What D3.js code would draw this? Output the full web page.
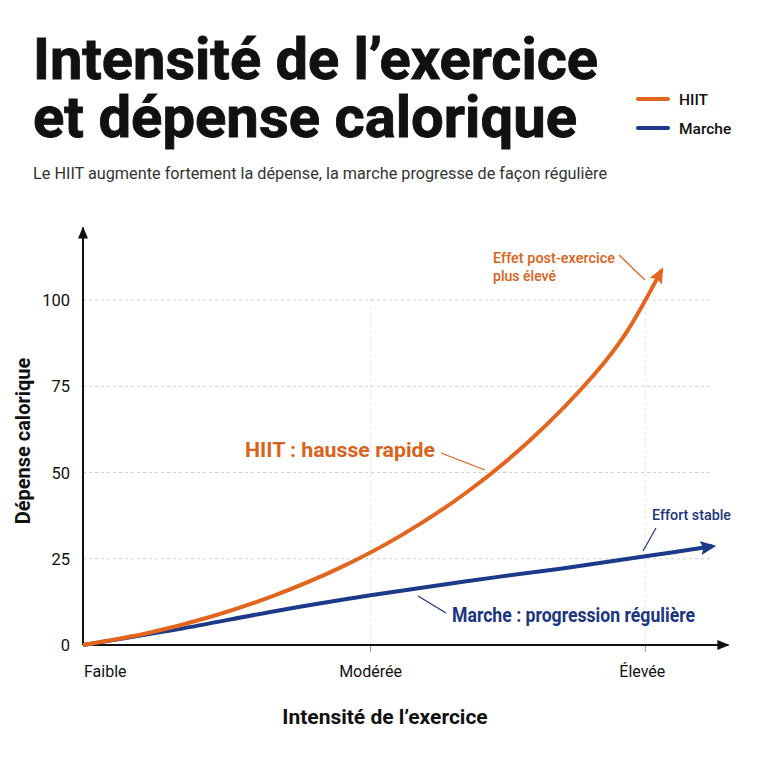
<!DOCTYPE html>
<html>
<head>
<meta charset="utf-8">
<script src="https://cdn.jsdelivr.net/npm/d3@7/dist/d3.min.js"></script>
<style>
  html, body { margin: 0; padding: 0; background: #ffffff; }
  svg { display: block; font-family: Roboto, "Noto Sans", sans-serif; }
</style>
</head>
<body>
<svg id="chart" width="768" height="768"></svg>
<script>
// ---- Data ----
const titleLines = ["Intensité de l’exercice", "et dépense calorique"];
const subtitle = "Le HIIT augmente fortement la dépense, la marche progresse de façon régulière";
const seriesNames = ["HIIT", "Marche"];

// intensity (0-100 scale) and calorie expenditure
const hiitIntensity = [0, 10, 20, 30, 40, 50, 60, 70, 80, 85, 90.5];
const hiitValues    = [0, 3.4, 8.2, 14.4, 22.2, 32, 44.2, 59.4, 78.4, 90.5, 108.5];
const marcheIntensity = [0, 15, 30, 45, 60, 75, 88, 98.5];
const marcheValues    = [0, 4.6, 9.8, 14.4, 18.5, 22.2, 25.7, 28.6];

const xTickValues = [0, 45, 88];
const xTickLabels = ["Faible", "Modérée", "Élevée"];
const yTickValues = [0, 25, 50, 75, 100];

const xTitle = "Intensité de l’exercice";
const yTitle = "Dépense calorique";

const annotations = [
  { lines: ["Effet post-exercice", "plus élevé"], series: 0 },
  { lines: ["HIIT : hausse rapide"], series: 0 },
  { lines: ["Effort stable"], series: 1 },
  { lines: ["Marche : progression régulière"], series: 1 }
];

// ---- Styles ----
const colors = ["#E4651E", "#1C3A8A"];
const textColors = ["#D9621C", "#1C3580"];

const svg = d3.select("#chart");

const x = d3.scaleLinear().domain([0, 100]).range([83, 722]);
const y = d3.scaleLinear().domain([0, 100]).range([645, 300]);

function fit(sel, w) {
  const n = sel.node();
  const len = n.getComputedTextLength();
  if (Math.abs(len - w) > 1) sel.attr("textLength", w).attr("lengthAdjust", "spacingAndGlyphs");
  return sel;
}

// ---- Title (one text, two lines) ----
const title = svg.append("text").attr("font-size", 58).attr("font-weight", 700)
  .attr("fill", "#111").attr("stroke", "#111").attr("stroke-width", 0.9);
const titleWidths = [565, 544];
titleLines.forEach((t, i) => {
  const ts = title.append("tspan").attr("x", 33).attr("y", 79 + i * 58).text(t);
  const len = ts.node().getComputedTextLength();
  ts.attr("textLength", titleWidths[i]).attr("lengthAdjust", "spacingAndGlyphs");
});

fit(svg.append("text").attr("x", 33).attr("y", 179)
  .attr("font-size", 16.5).attr("fill", "#333")
  .text(subtitle), 574);

// ---- Legend ----
seriesNames.forEach((name, i) => {
  const ly = 99 + i * 29;
  svg.append("line").attr("x1", 638).attr("x2", 668).attr("y1", ly).attr("y2", ly)
    .attr("stroke", colors[i]).attr("stroke-width", 4).attr("stroke-linecap", "round");
  svg.append("text").attr("x", 679).attr("y", ly + 6)
    .attr("font-size", 15.5).attr("font-weight", 500).attr("fill", "#111").text(name);
});

// ---- Gridlines ----
const grid = svg.append("g");
grid.selectAll("line.h").data(yTickValues.filter(d => d > 0)).join("line")
  .attr("x1", x(0)).attr("x2", 713)
  .attr("y1", d => y(d)).attr("y2", d => y(d))
  .attr("stroke", "#cfcfcf").attr("stroke-width", 1).attr("stroke-dasharray", "3,3");
grid.selectAll("line.v").data(xTickValues.filter(d => d > 0)).join("line")
  .attr("x1", d => x(d)).attr("x2", d => x(d))
  .attr("y1", y(0)).attr("y2", y(100))
  .attr("stroke", "#e6e6e6").attr("stroke-width", 1).attr("stroke-dasharray", "3,3");

// ---- Axes ----
const defs = svg.append("defs");
defs.append("marker").attr("id", "axArrow").attr("viewBox", "0 0 12 10")
  .attr("refX", 11).attr("refY", 5).attr("markerWidth", 12).attr("markerHeight", 10)
  .attr("markerUnits", "userSpaceOnUse").attr("orient", "auto")
  .append("path").attr("d", "M0,0 L12,5 L0,10 Z").attr("fill", "#111");
colors.forEach((c, i) => {
  defs.append("marker").attr("id", "arr" + i).attr("viewBox", "0 0 16 14")
    .attr("refX", 12).attr("refY", 7).attr("markerWidth", 16).attr("markerHeight", 14)
    .attr("markerUnits", "userSpaceOnUse").attr("orient", "auto")
    .append("path").attr("d", "M0,0 L16,7 L0,14 L3,7 Z").attr("fill", c);
});

svg.append("line").attr("x1", x(0)).attr("x2", x(101)).attr("y1", y(0)).attr("y2", y(0))
  .attr("stroke", "#111").attr("stroke-width", 2).attr("marker-end", "url(#axArrow)");
svg.append("line").attr("x1", x(0)).attr("x2", x(0)).attr("y1", y(0)).attr("y2", y(121))
  .attr("stroke", "#111").attr("stroke-width", 2).attr("marker-end", "url(#axArrow)");

// x ticks
svg.selectAll("line.xt").data(xTickValues.filter(d => d > 0)).join("line")
  .attr("x1", d => x(d)).attr("x2", d => x(d)).attr("y1", y(0) + 1).attr("y2", y(0) + 7)
  .attr("stroke", "#999").attr("stroke-width", 1);
svg.selectAll("text.xl").data(xTickValues).join("text")
  .attr("x", (d, i) => i === 0 ? x(d) + 1 : x(d) - (i === 2 ? 3 : 0))
  .attr("y", 677)
  .attr("text-anchor", (d, i) => i === 0 ? "start" : "middle")
  .attr("font-size", 16).attr("fill", "#111")
  .text((d, i) => xTickLabels[i]);

// y ticks
svg.selectAll("text.yl").data(yTickValues).join("text")
  .attr("x", 70).attr("y", d => y(d) + 6)
  .attr("text-anchor", "end").attr("font-size", 16.5).attr("fill", "#111")
  .text(d => d);

// axis titles
svg.append("text").attr("x", 385).attr("y", 724).attr("text-anchor", "middle")
  .attr("font-size", 21).attr("font-weight", 700).attr("fill", "#111").text(xTitle);
svg.append("text").attr("transform", "translate(30,441) rotate(-90)").attr("text-anchor", "middle")
  .attr("font-size", 20).attr("font-weight", 700).attr("fill", "#111").text(yTitle);

// ---- Lines ----
const line = d3.line().x(d => x(d[0])).y(d => y(d[1])).curve(d3.curveCatmullRom.alpha(0.5));
const hiitData = hiitIntensity.map((v, i) => [v, hiitValues[i]]);
const marcheData = marcheIntensity.map((v, i) => [v, marcheValues[i]]);

svg.append("path").datum(marcheData).attr("d", line)
  .attr("fill", "none").attr("stroke", colors[1]).attr("stroke-width", 4)
  .attr("marker-end", "url(#arr1)");
svg.append("path").datum(hiitData).attr("d", line)
  .attr("fill", "none").attr("stroke", colors[0]).attr("stroke-width", 4)
  .attr("marker-end", "url(#arr0)");

// ---- Annotations ----
function leader(x1, y1, x2, y2, c) {
  svg.append("line").attr("x1", x1).attr("y1", y1).attr("x2", x2).attr("y2", y2)
    .attr("stroke", c).attr("stroke-width", 1.2);
}
// Effet post-exercice
fit(svg.append("text").attr("x", 493).attr("y", 263).attr("font-size", 15).attr("font-weight", 500)
  .attr("fill", textColors[0]).text(annotations[0].lines[0]), 122);
fit(svg.append("text").attr("x", 493).attr("y", 281).attr("font-size", 15).attr("font-weight", 500)
  .attr("fill", textColors[0]).text(annotations[0].lines[1]), 63);
leader(619, 255, 645, 280, textColors[0]);

// HIIT : hausse rapide
fit(svg.append("text").attr("x", 245).attr("y", 457).attr("font-size", 20).attr("font-weight", 700)
  .attr("fill", textColors[0]).text(annotations[1].lines[0]), 190);
leader(441, 453, 485, 470, textColors[0]);

// Effort stable
fit(svg.append("text").attr("x", 652).attr("y", 520).attr("font-size", 15).attr("font-weight", 500)
  .attr("fill", textColors[1]).text(annotations[2].lines[0]), 79);
leader(656, 528, 643, 551, textColors[1]);

// Marche : progression régulière
fit(svg.append("text").attr("x", 452).attr("y", 622).attr("font-size", 20).attr("font-weight", 700)
  .attr("fill", textColors[1]).text(annotations[3].lines[0]), 243);
leader(418, 596, 446, 613, textColors[1]);
</script>
</body>
</html>
